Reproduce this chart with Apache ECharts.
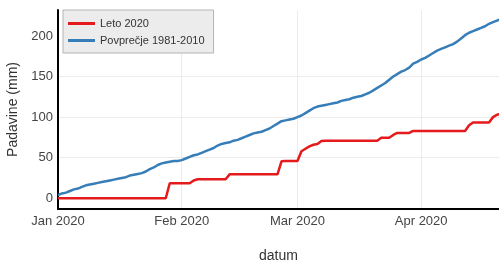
<!DOCTYPE html>
<html>
<head>
<meta charset="utf-8">
<script src="https://cdn.jsdelivr.net/npm/echarts@6/dist/echarts.min.js"></script>
<style>
  html, body { margin: 0; padding: 0; background: #fff; }
  #chart { width: 499px; height: 262px; }
</style>
</head>
<body>
<div id="chart"></div>
<script>
// daily cumulative precipitation, first value = 1 Jan 2020
const startDate = '2020-01-01'
const seriesNames = ['Leto 2020', 'Povprečje 1981-2010']
const leto2020 = [
    0, 0, 0, 0, 0, 0, 0, 0, 0, 0,
    0, 0, 0, 0, 0, 0, 0, 0, 0, 0,
    0, 0, 0, 0, 0, 0, 0, 0, 18.5, 18.5,
    18.5, 18.5, 18.5, 18.5, 22, 23.5, 23.5, 23.5, 23.5, 23.5,
    23.5, 23.5, 23.5, 29.5, 29.5, 29.5, 29.5, 29.5, 29.5, 29.5,
    29.5, 29.5, 29.5, 29.5, 29.5, 29.5, 45.5, 46, 46, 46,
    46, 58, 61, 64, 66, 67, 70.5, 71, 71, 71,
    71, 71, 71, 71, 71, 71, 71, 71, 71, 71,
    71, 74.5, 74.5, 74.5, 78, 80.5, 80.5, 80.5, 80.5, 83,
    83, 83, 83, 83, 83, 83, 83, 83, 83, 83,
    83, 83, 83, 90, 93.5, 93.5, 93.5, 93.5, 93.5, 100,
    103, 104
]
const povprecje = [
    4, 6, 7, 9, 11, 12, 14, 16, 17, 18,
    19, 20, 21, 22, 23, 24, 25, 26, 28, 29,
    30, 31, 33, 36, 38, 41, 43, 44, 45, 46,
    46, 47, 49, 51, 53, 54, 56, 58, 60, 62,
    65, 67, 68, 69, 71, 72, 74, 76, 78, 80,
    81, 82, 84, 86, 89, 92, 95, 96, 97, 98,
    100, 102, 105, 108, 111, 113, 114, 115, 116, 117,
    118, 120, 121, 122, 124, 125, 126, 128, 130, 133,
    136, 139, 142, 146, 150, 153, 156, 158, 161, 166,
    168, 171, 173, 176, 179, 182, 184, 186, 188, 190,
    193, 197, 201, 204, 206, 208, 210, 212, 215, 217,
    219, 221
]
const xTickDates = ['2020-01-01', '2020-02-01', '2020-03-01', '2020-04-01']
const xTickLabels = ['Jan 2020', 'Feb 2020', 'Mar 2020', 'Apr 2020']
const yTicks = [0, 50, 100, 150, 200]

function toDated(values) {
    let d0 = new Date(startDate + 'T00:00:00')
    return values.map((v, i) => {
        let d = new Date(d0.getFullYear(), d0.getMonth(), d0.getDate() + i)
        return [d.getTime(), v]
    })
}

const tickTimes = xTickDates.map(s => new Date(s + 'T00:00:00').getTime())

let chart = echarts.init(document.getElementById('chart'))
chart.setOption({
    animation: false,
    backgroundColor: '#ffffff',
    textStyle: { fontFamily: 'Liberation Sans, Arial, sans-serif' },
    grid: { left: 58, right: 0, top: 10, bottom: 53, outerBoundsMode: 'none' },
    legend: {
        orient: 'vertical',
        left: 63,
        top: 10,
        padding: [8, 9, 7, 5],
        itemGap: 6,
        itemWidth: 27,
        itemHeight: 3,
        icon: 'rect',
        backgroundColor: '#ececec',
        borderColor: '#b4b4b4',
        borderWidth: 1,
        textStyle: { fontSize: 11, color: '#333' },
        data: seriesNames
    },
    xAxis: {
        type: 'value',
        min: new Date(2020, 0, 1).getTime(),
        max: new Date(2020, 3, 20, 12).getTime(),
        name: 'datum',
        nameLocation: 'middle',
        nameGap: 40,
        nameTextStyle: { fontSize: 14, color: '#333' },
        axisLine: { show: true, onZero: false, lineStyle: { color: '#000', width: 2 } },
        axisTick: { show: false, customValues: tickTimes },
        axisLabel: {
            customValues: tickTimes,
            fontSize: 13,
            color: '#444',
            margin: 6,
            formatter: function (v) {
                let i = tickTimes.indexOf(v)
                return i >= 0 ? xTickLabels[i] : ''
            }
        },
        splitLine: { show: true, lineStyle: { color: '#ececec', width: 1 } }
    },
    yAxis: {
        type: 'value',
        min: -13.2,
        max: 232,
        name: 'Padavine (mm)',
        nameLocation: 'middle',
        nameGap: 33,
        nameTextStyle: { fontSize: 14, color: '#333' },
        axisLine: { show: true, lineStyle: { color: '#000', width: 2 } },
        axisTick: { show: false, customValues: yTicks },
        axisLabel: { customValues: yTicks, fontSize: 13, color: '#444', margin: 5 },
        splitLine: {
            show: true,
            showMinLine: false,
            showMaxLine: false,
            lineStyle: { color: '#ececec', width: 1 }
        }
    },
    series: [
        {
            name: seriesNames[0],
            type: 'line',
            data: toDated(leto2020),
            showSymbol: false,
            color: '#e41a1c',
            lineStyle: { width: 2.5 },
            z: 3
        },
        {
            name: seriesNames[1],
            type: 'line',
            data: toDated(povprecje),
            showSymbol: false,
            color: '#377eb8',
            lineStyle: { width: 2.5 },
            z: 2
        }
    ]
})
</script>
</body>
</html>
